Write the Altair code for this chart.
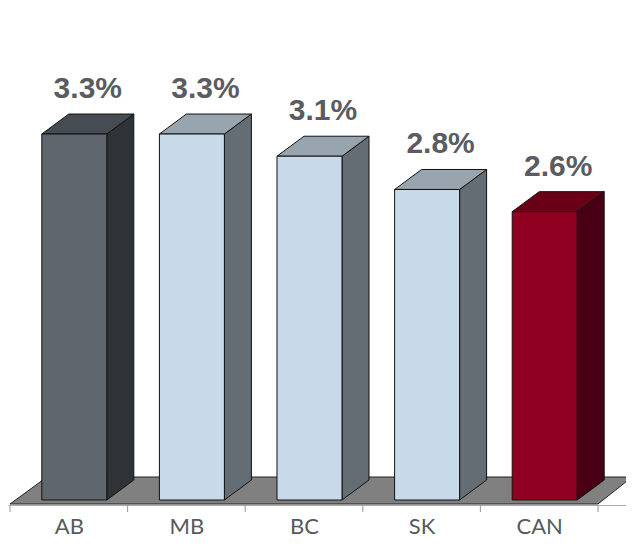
import altair as alt
import pandas as pd

# ---- data ----
CATEGORIES = ["AB", "MB", "BC", "SK", "CAN"]
VALUES = [3.3, 3.3, 3.1, 2.8, 2.6]
LABELS = ["3.3%", "3.3%", "3.1%", "2.8%", "2.6%"]

# ---- style ----
FRONT = ["#5f666d", "#c8d9e9", "#c8d9e9", "#c8d9e9", "#900020"]
SIDE = ["#2f3338", "#646c74", "#646c74", "#646c74", "#4a0014"]
TOP = ["#474c52", "#98a4ae", "#98a4ae", "#98a4ae", "#6a0018"]

PX_X = 117.6   # pixels per category unit
PX_Y = 110.9   # pixels per value unit
W, H = 618, 497
XMIN = -0.5 - 2 / PX_X
XMAX = XMIN + W / PX_X
YMIN = -5 / PX_Y
YMAX = YMIN + H / PX_Y

FL = -27 / PX_X   # front face left offset from band centre
FR = 38 / PX_X    # front face right offset
SR = 65 / PX_X    # side face right offset
DX = SR - FR
DY = 20 / PX_Y    # depth rise

xs = alt.Scale(domain=[XMIN, XMAX], nice=False, zero=False)
ys = alt.Scale(domain=[YMIN, YMAX], nice=False, zero=False)

n = len(CATEGORIES)
label_list = ",".join("'%s'" % c for c in CATEGORIES)
x_axis = alt.Axis(
    values=list(range(n)),
    labelExpr="[%s][round(datum.value)]" % label_list,
    labelFlush=False,
    labelOverlap=False,
    ticks=False,
    tickSize=0,
    domainColor="#aaaaaa",
    labelFont="Lato",
    labelFontSize=22,
    labelColor="#58595b",
    labelBaseline="alphabetic",
    labelPadding=28,
    grid=False,
    title=None,
)

front_rows, side_rows, top_rows, text_rows = [], [], [], []
for i, (c, v, lab) in enumerate(zip(CATEGORIES, VALUES, LABELS)):
    front_rows.append(dict(cat=c, x=i + FL, x2=i + FR, y=0.0, y2=v, fill=FRONT[i]))
    side_rows.append(dict(cat=c, x=i + FR, y=0.0, y2=v, fill=SIDE[i]))
    side_rows.append(dict(cat=c, x=i + SR, y=DY, y2=v + DY, fill=SIDE[i]))
    top_rows.append(dict(cat=c, y=v, x=i + FL, x2=i + FR, fill=TOP[i]))
    top_rows.append(dict(cat=c, y=v + DY, x=i + FL + DX, x2=i + SR, fill=TOP[i]))
    text_rows.append(dict(cat=c, x=i + 19 / PX_X, y=v + DY + 16 / PX_Y, label=lab))

floor_df = pd.DataFrame([
    dict(y=-4 / PX_Y, x=-0.5, x2=n - 0.5),
    dict(y=23 / PX_Y, x=-0.5 + 37 / PX_X, x2=n - 0.5 + 34 / PX_X),
])
tick_df = pd.DataFrame({
    "x": [i - 0.5 for i in range(n + 1)],
    "y": [YMIN] * (n + 1),
    "y2": [YMIN - 7 / PX_Y] * (n + 1),
})

floor = alt.Chart(floor_df).mark_area(
    orient="horizontal", color="#808080", stroke="#222222", strokeWidth=1
).encode(
    y=alt.Y("y:Q", scale=ys, axis=None),
    x=alt.X("x:Q", scale=xs, axis=x_axis),
    x2="x2:Q",
)

ticks = alt.Chart(tick_df).mark_rule(color="#999999", strokeWidth=1).encode(
    x=alt.X("x:Q", scale=xs, axis=x_axis),
    y=alt.Y("y:Q", scale=ys, axis=None),
    y2="y2:Q",
)

side = alt.Chart(pd.DataFrame(side_rows)).mark_area(
    orient="vertical", stroke="#111111", strokeWidth=1
).encode(
    x=alt.X("x:Q", scale=xs, axis=x_axis),
    y=alt.Y("y:Q", scale=ys, axis=None),
    y2="y2:Q",
    detail="cat:N",
    fill=alt.Fill("fill:N", scale=None),
)

top = alt.Chart(pd.DataFrame(top_rows)).mark_area(
    orient="horizontal", stroke="#111111", strokeWidth=1
).encode(
    y=alt.Y("y:Q", scale=ys, axis=None),
    x=alt.X("x:Q", scale=xs, axis=x_axis),
    x2="x2:Q",
    detail="cat:N",
    fill=alt.Fill("fill:N", scale=None),
)

front = alt.Chart(pd.DataFrame(front_rows)).mark_rect(
    stroke="#111111", strokeWidth=1
).encode(
    x=alt.X("x:Q", scale=xs, axis=x_axis),
    x2="x2:Q",
    y=alt.Y("y:Q", scale=ys, axis=None),
    y2="y2:Q",
    fill=alt.Fill("fill:N", scale=None),
)

text = alt.Chart(pd.DataFrame(text_rows)).mark_text(
    font="Liberation Sans", fontWeight="bold", fontSize=30,
    color="#5a5c61", align="center", baseline="alphabetic"
).encode(
    x=alt.X("x:Q", scale=xs, axis=x_axis),
    y=alt.Y("y:Q", scale=ys, axis=None),
    text="label:N",
)

chart = alt.layer(floor, ticks, side, top, front, text).properties(
    width=W, height=H,
    padding={"left": 0, "top": 0, "right": 0, "bottom": 33},
    autosize=alt.AutoSizeParams(type="none"),
    background="white",
).configure_view(stroke=None)

chart.save("out.html", embed_options={"renderer": "svg", "actions": False})
